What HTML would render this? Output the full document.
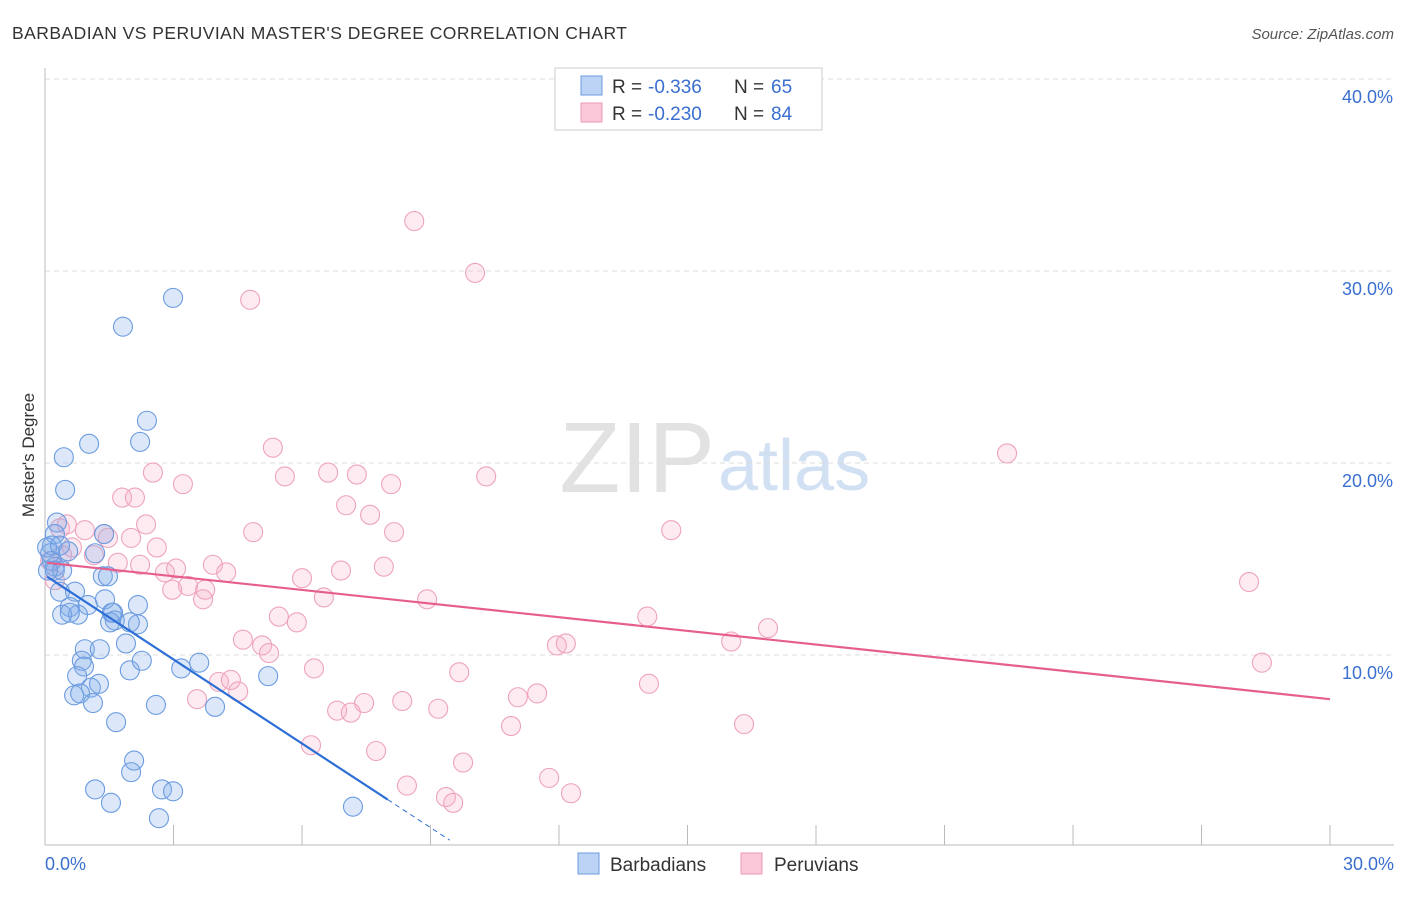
<!DOCTYPE html>
<html><head><meta charset="utf-8"><style>
body{margin:0;background:#fff;font-family:"Liberation Sans",sans-serif;}
svg text{font-family:"Liberation Sans",sans-serif;}
</style></head><body>
<svg id="chart" width="1406" height="892">
<text x="12" y="39" font-size="17.5" fill="#333" textLength="615">BARBADIAN VS PERUVIAN MASTER'S DEGREE CORRELATION CHART</text>
<text x="1394" y="39" font-size="15" fill="#555" font-style="italic" text-anchor="end">Source: ZipAtlas.com</text>
<text x="715" y="492" font-size="100" fill="#e2e2e2" text-anchor="end" font-family="Liberation Serif">ZIP</text>
<text x="718" y="490" font-size="72" fill="#d2e0f3">atlas</text>
<text transform="translate(34,455) rotate(-90)" font-size="17" fill="#333" text-anchor="middle">Master's Degree</text>
<g id="grid"></g><g id="pts"></g><g id="lines"></g>
<g>
<rect x="555" y="68" width="267" height="62" fill="#fff" stroke="#ccc"/>
<rect x="581" y="76" width="21" height="19" fill="#bcd3f5" stroke="#6b9be0"/>
<rect x="581" y="103" width="21" height="19" fill="#fac8d8" stroke="#ec9ab5"/>
<text x="612" y="93" font-size="19" fill="#333">R =</text>
<text x="648" y="93" font-size="19" fill="#3a6fd0">-0.336</text>
<text x="734" y="93" font-size="19" fill="#333">N =</text>
<text x="771" y="93" font-size="19" fill="#3a6fd0">65</text>
<text x="612" y="120" font-size="19" fill="#333">R =</text>
<text x="648" y="120" font-size="19" fill="#3a6fd0">-0.230</text>
<text x="734" y="120" font-size="19" fill="#333">N =</text>
<text x="771" y="120" font-size="19" fill="#3a6fd0">84</text>
</g>
<g>
<rect x="578" y="853" width="21" height="21" fill="#bcd3f5" stroke="#6b9be0"/>
<text x="610" y="871" font-size="19" fill="#333">Barbadians</text>
<rect x="741" y="853" width="21" height="21" fill="#fac8d8" stroke="#ec9ab5"/>
<text x="774" y="871" font-size="19" fill="#333">Peruvians</text>
</g>
<text x="45" y="870" font-size="18" fill="#3a6fd0">0.0%</text>
<text x="1394" y="870" font-size="18" fill="#3a6fd0" text-anchor="end">30.0%</text>
</svg>
<script>
const yTicks=[10,20,30,40];
const blueX=[2.99,1.82,2.38,2.22,1.03,0.44,0.47,0.28,0.23,0.16,0.16,0.23,0.54,1.17,1.38,1.35,1.47,0.35,0.70,1.00,1.40,0.58,0.77,0.40,1.56,1.63,2.17,1.52,2.17,1.89,0.93,1.28,0.86,0.91,1.98,2.26,3.18,3.60,5.21,0.75,1.07,1.26,0.68,0.82,1.12,2.59,3.97,1.66,2.08,2.01,1.17,1.54,2.73,2.99,2.66,7.19,0.05,0.12,0.23,0.40,0.07,0.35,0.58,1.59,1.98];
const blueY=[28.6,27.1,22.2,21.1,21.0,20.3,18.6,16.9,16.3,15.7,14.9,14.6,15.4,15.3,16.3,14.1,14.1,13.3,13.3,12.6,12.9,12.5,12.1,12.1,12.2,11.8,12.6,11.7,11.6,10.6,10.3,10.3,9.7,9.4,9.2,9.7,9.3,9.6,8.9,8.9,8.3,8.5,7.9,8.0,7.5,7.4,7.3,6.5,4.5,3.9,3.0,2.3,3.0,2.9,1.5,2.1,15.6,15.3,14.4,14.4,14.4,15.7,12.2,12.2,11.7];
const pinkX=[8.62,10.04,4.79,22.46,5.32,2.52,3.22,5.60,6.61,7.28,8.08,10.30,7.03,7.59,1.80,2.10,2.36,4.86,8.15,14.62,0.35,0.51,0.93,1.38,2.01,1.47,2.61,0.63,1.14,0.12,0.40,1.70,2.22,3.06,3.92,4.23,2.80,6.00,6.91,7.91,0.23,2.97,3.34,3.74,3.69,6.51,8.92,5.46,5.88,14.06,28.11,16.88,4.62,5.07,5.23,11.95,12.16,16.02,6.28,9.67,28.41,4.06,4.34,4.51,3.55,14.10,11.04,11.49,8.34,7.45,6.82,7.14,9.18,10.88,16.32,6.21,7.73,9.76,8.45,11.77,9.36,9.53,12.28];
const pinkY=[32.6,29.9,28.5,20.5,20.8,19.5,18.9,19.3,19.5,19.4,18.9,19.3,17.8,17.3,18.2,18.2,16.8,16.4,16.4,16.5,16.6,16.8,16.5,16.3,16.1,16.1,15.6,15.6,15.2,14.9,15.2,14.8,14.7,14.5,14.7,14.3,14.3,14.0,14.4,14.6,13.9,13.4,13.6,13.4,12.9,13.0,12.9,12.0,11.7,12.0,13.8,11.4,10.8,10.5,10.1,10.5,10.6,10.7,9.3,9.1,9.6,8.6,8.7,8.1,7.7,8.5,7.8,8.0,7.6,7.5,7.1,7.0,7.2,6.3,6.4,5.3,5.0,4.4,3.2,3.6,2.6,2.3,2.8];
const blueTrend=[14.15,-1.46];
const pinkTrend=[14.8,7.7];
const NS="http://www.w3.org/2000/svg";
const sx=v=>45+v*1285/30, sy=v=>847-v*19.2;
function mk(tag,attrs,parent){const e=document.createElementNS(NS,tag);for(const k in attrs)e.setAttribute(k,attrs[k]);parent.appendChild(e);return e;}
const grid=document.getElementById('grid');
yTicks.forEach(t=>{
 const l=mk('line',{x1:45,x2:1394,y1:sy(t),y2:sy(t),stroke:'#ddd','stroke-dasharray':'5,4'},grid);
 
 
 const tx=mk('text',{x:1393,y:sy(t)+24,'font-size':18,fill:'#3a6fd0','text-anchor':'end'},grid);
 tx.textContent=t.toFixed(1)+'%';
 
 
});
mk('line',{x1:45,x2:45,y1:68,y2:845,stroke:'#bbb'},grid);
mk('line',{x1:45,x2:1394,y1:845,y2:845,stroke:'#bbb'},grid);
for(let i=1;i<=10;i++){const t=mk('line',{x1:sx(i*3),x2:sx(i*3),y1:825,y2:845,stroke:'#bbb'},grid);
 
 }
const pts=document.getElementById('pts');
pinkX.forEach((x,i)=>{const c=mk('circle',{cx:sx(x),cy:sy(pinkY[i]),r:9.5,fill:'rgba(246,175,198,0.25)',stroke:'#eea3bb','stroke-width':1.1},pts);
 
 });
blueX.forEach((x,i)=>{const c=mk('circle',{cx:sx(x),cy:sy(blueY[i]),r:9.5,fill:'rgba(130,172,235,0.28)',stroke:'#6b9be0','stroke-width':1.1},pts);
 
 });
const lines=document.getElementById('lines');
const bl=x=>blueTrend[0]+blueTrend[1]*x;
const b1=mk('line',{x1:sx(0.05),y1:sy(bl(0.05)),x2:sx(8),y2:sy(bl(8)),stroke:'#2d6fd6','stroke-width':2.2},lines);


const b2=mk('line',{x1:sx(8),y1:sy(bl(8)),x2:sx(9.45),y2:sy(bl(9.45)),stroke:'#2d6fd6','stroke-width':1,'stroke-dasharray':'5,4'},lines);


const p1=mk('line',{x1:sx(0.05),y1:sy(pinkTrend[0]),x2:sx(30),y2:sy(pinkTrend[1]),stroke:'#e65f8c','stroke-width':2.2},lines);


</script>
</body></html>
